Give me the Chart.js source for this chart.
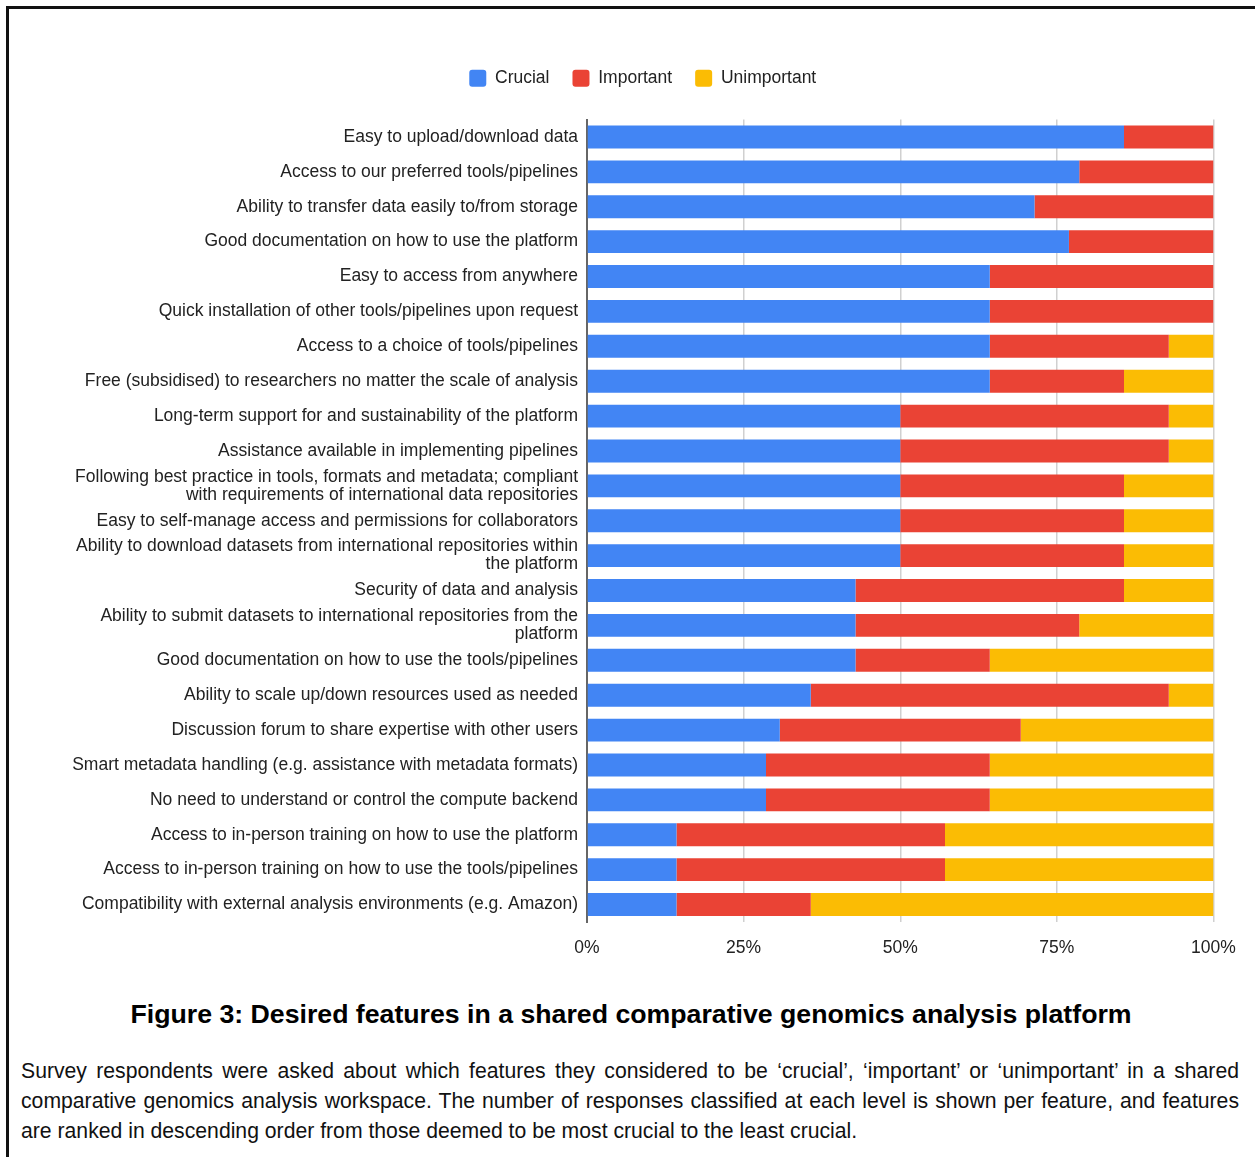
<!DOCTYPE html>
<html>
<head>
<meta charset="utf-8">
<script src="https://cdn.jsdelivr.net/npm/chart.js@4.4.1/dist/chart.umd.min.js"></script>
<style>
  body { margin: 0; background: #fff; font-family: "Liberation Sans", Arial, sans-serif; }
  .frame { position: absolute; left: 6px; top: 6px; width: 1300px; height: 1200px;
           border-top: 3px solid #111; border-left: 3px solid #111; }
  #chartBox { position: absolute; left: 0; top: 0; width: 1255px; height: 975px; }
  .title { position: absolute; left: 0; top: 999px; width: 1262px; text-align: center;
           font-weight: bold; font-size: 26.7px; color: #000; }
  .caption { position: absolute; left: 21px; top: 1056px; width: 1218px; font-size: 21.2px;
             line-height: 30px; color: #111; }
  .caption div { text-align: justify; text-align-last: justify; white-space: nowrap; }
  .caption div.last { text-align-last: left; }
</style>
</head>
<body>
<div class="frame"></div>
<div id="chartBox"><canvas id="featuresChart" width="1255" height="975"></canvas></div>
<div class="title">Figure 3: Desired features in a shared comparative genomics analysis platform</div>
<div class="caption">
  <div>Survey respondents were asked about which features they considered to be ‘crucial’, ‘important’ or ‘unimportant’ in a shared</div>
  <div>comparative genomics analysis workspace. The number of responses classified at each level is shown per feature, and features</div>
  <div class="last">are ranked in descending order from those deemed to be most crucial to the least crucial.</div>
</div>
<script>
// features, top to bottom
const features = [
  'Easy to upload/download data',
  'Access to our preferred tools/pipelines',
  'Ability to transfer data easily to/from storage',
  'Good documentation on how to use the platform',
  'Easy to access from anywhere',
  'Quick installation of other tools/pipelines upon request',
  'Access to a choice of tools/pipelines',
  'Free (subsidised) to researchers no matter the scale of analysis',
  'Long-term support for and sustainability of the platform',
  'Assistance available in implementing pipelines',
  ['Following best practice in tools, formats and metadata; compliant', 'with requirements of international data repositories'],
  'Easy to self-manage access and permissions for collaborators',
  ['Ability to download datasets from international repositories within', 'the platform'],
  'Security of data and analysis',
  ['Ability to submit datasets to international repositories from the', 'platform'],
  'Good documentation on how to use the tools/pipelines',
  'Ability to scale up/down resources used as needed',
  'Discussion forum to share expertise with other users',
  'Smart metadata handling (e.g. assistance with metadata formats)',
  'No need to understand or control the compute backend',
  'Access to in-person training on how to use the platform',
  'Access to in-person training on how to use the tools/pipelines',
  'Compatibility with external analysis environments (e.g. Amazon)'
];

// number of responses per level
const crucial     = [12, 11, 10, 10, 9, 9, 9, 9, 7, 7, 7, 7, 7, 6, 6, 6, 5, 4, 4, 4, 2, 2, 2];
const important   = [ 2,  3,  4,  3, 5, 5, 4, 3, 6, 6, 5, 5, 5, 6, 5, 3, 8, 5, 5, 5, 6, 6, 3];
const unimportant = [ 0,  0,  0,  0, 0, 0, 1, 2, 1, 1, 2, 2, 2, 2, 3, 5, 1, 4, 5, 5, 6, 6, 9];

const xTicks = [0, 25, 50, 75, 100];

// 100% stacked -> share of each row's total
const totals = crucial.map((c, i) => c + important[i] + unimportant[i]);
const pct = arr => arr.map((v, i) => v / totals[i] * 100);

const font = { family: '"Liberation Sans", Arial, sans-serif', size: 17.5 };

// push the plot a bit further below the legend, and nudge the legend right
const legendGap = {
  id: 'legendGap',
  beforeInit(chart) {
    const origFit = chart.legend.fit;
    chart.legend.fit = function () {
      origFit.bind(chart.legend)();
      this.height += 22.5;
    };
  },
  afterLayout(chart) {
    chart.legend.left += 36;
    chart.legend.right += 36;
  }
};

new Chart(document.getElementById('featuresChart').getContext('2d'), {
  type: 'bar',
  data: {
    labels: features,
    datasets: [
      { label: 'Crucial', data: pct(crucial), backgroundColor: '#4285F4' },
      { label: 'Important', data: pct(important), backgroundColor: '#EA4335' },
      { label: 'Unimportant', data: pct(unimportant), backgroundColor: '#FBBC04' }
    ]
  },
  options: {
    indexAxis: 'y',
    responsive: false,
    animation: false,
    barPercentage: 0.82,
    categoryPercentage: 0.8,
    borderWidth: 0,
    layout: { padding: { top: 46.5, right: 41.5, bottom: 0, left: 0 } },
    plugins: {
      legend: {
        position: 'top',
        labels: {
          font: font,
          color: '#222',
          boxWidth: 17,
          boxHeight: 17,
          padding: 23,
          useBorderRadius: true,
          borderRadius: 3
        }
      },
      tooltip: { enabled: false }
    },
    scales: {
      x: {
        stacked: true,
        min: 0,
        max: 100,
        afterBuildTicks: scale => { scale.ticks = xTicks.map(v => ({ value: v })); },
        ticks: { font: font, color: '#222', padding: 16, maxRotation: 0, callback: v => v + '%' },
        grid: { color: '#d0d0d0', lineWidth: 1.5, drawTicks: false },
        border: { display: false }
      },
      y: {
        stacked: true,
        afterFit: scale => { scale.width = 587; },
        ticks: { font: { ...font, lineHeight: 1.03 }, color: '#222', padding: 9, autoSkip: false },
        grid: { display: false, drawTicks: false },
        border: { display: true, color: '#666', width: 2 }
      }
    }
  },
  plugins: [legendGap]
});
</script>
</body>
</html>
